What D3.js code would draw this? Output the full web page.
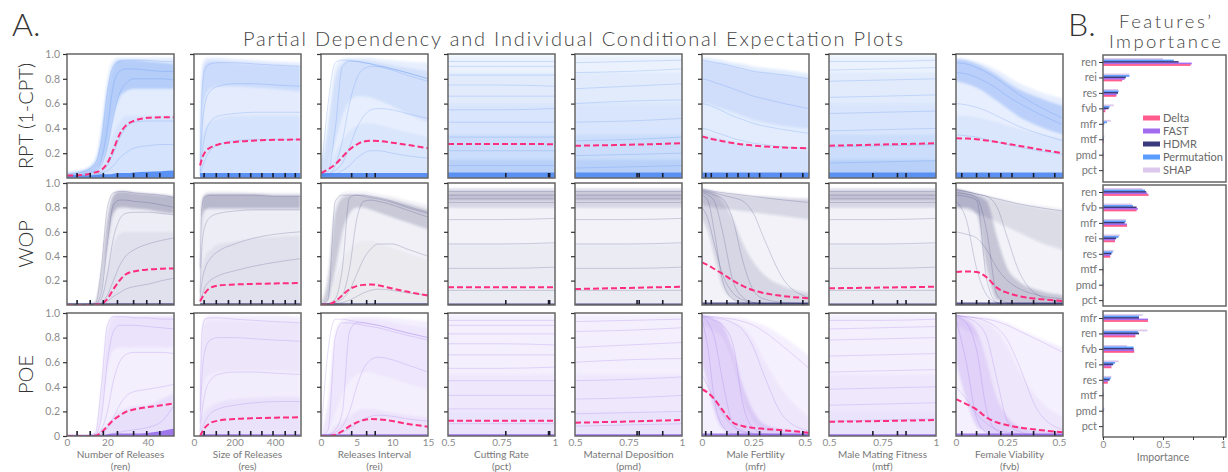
<!DOCTYPE html>
<html><head><meta charset="utf-8">
<script src="https://cdn.jsdelivr.net/npm/d3@7"></script>
<style>body{margin:0;background:#fff;} svg{display:block;font-family:Lato,'Open Sans',sans-serif;}</style>
</head><body><svg id="c" width="1228" height="472"></svg>
<script>
// ---------- categories / axes ----------
const features = ["ren","res","rei","pct","pmd","mfr","mtf","fvb"];
const featureNames = ["Number of Releases","Size of Releases","Releases Interval","Cutting Rate","Maternal Deposition","Male Fertility","Male Mating Fitness","Female Viability"];
const xDomains = [[0,53],[0,528],[0,15],[0.5,1],[0.5,1],[0,0.52],[0.5,1],[0,0.52]];
const xTickVals = [[0,20,40],[0,200,400],[0,5,10,15],[0.5,0.75,1],[0.5,0.75,1],[0,0.25,0.5],[0.5,0.75,1],[0,0.25,0.5]];
const yTickVals = [0.2,0.4,0.6,0.8,1.0];
const rowNames = ["RPT (1-CPT)","WOP","POE"];
const rowColors = ["#3a7bf0","#2d2d6c","#8b5ce8"];

// ---------- x grids for the curves ----------
const gridRen = [0,8,14,17,20,23,26,29,33,40,47,53];
const gridRes = [30,40,55,80,120,200,300,400,525];
const gridRei = [0,1,2,3,4,5,6,7,8,10,12,15];
const gridPct = [0.5,0.75,1];
const gridPmd = [0.5,0.75,1];
const gridMfr = [0,0.03,0.06,0.1,0.15,0.2,0.25,0.3,0.4,0.52];
const gridMtf = [0.5,0.75,1];
const gridFvb = [0,0.05,0.1,0.15,0.2,0.25,0.3,0.4,0.52];

// ---------- rug (decile) positions ----------
const rugRen = [5,11.5,18,25,33,39.5,46];
const rugRes = [50,110,170,225,280,335,390,450,500];
const rugRei = [4.3,6.4,7.6];
const rugPct = [0.77,0.97,0.975];
const rugPmd = [0.79,0.80,0.91];
const rugMfr = [0.018,0.045,0.121,0.175,0.227,0.28,0.383,0.49];
const rugMtf = [0.705,0.82,0.86];
const rugFvb = [0.028,0.1,0.16,0.218,0.272,0.377,0.48];

// ---------- partial dependence (pink dashed) ----------
const pdRPT = [
 [0.02,0.025,0.045,0.065,0.12,0.23,0.35,0.42,0.46,0.485,0.49,0.49],
 [0.1,0.16,0.21,0.245,0.27,0.29,0.302,0.308,0.31],
 [0.04,0.07,0.11,0.17,0.23,0.27,0.295,0.3,0.298,0.285,0.268,0.24],
 [0.275,0.274,0.273],
 [0.26,0.268,0.28],
 [0.335,0.322,0.31,0.297,0.282,0.27,0.262,0.255,0.245,0.24],
 [0.26,0.27,0.28],
 [0.32,0.318,0.313,0.302,0.29,0.276,0.262,0.232,0.2]];
const pdWOP = [
 [0,0,0.002,0.01,0.05,0.13,0.2,0.25,0.275,0.29,0.297,0.3],
 [0.03,0.06,0.1,0.14,0.16,0.168,0.173,0.177,0.18],
 [0,0.005,0.03,0.08,0.13,0.155,0.165,0.168,0.162,0.135,0.11,0.077],
 [0.145,0.145,0.145],
 [0.131,0.14,0.15],
 [0.35,0.325,0.295,0.255,0.2,0.155,0.12,0.098,0.072,0.055],
 [0.137,0.143,0.15],
 [0.27,0.275,0.27,0.225,0.14,0.1,0.075,0.05,0.033]];
const pdPOE = [
 [0,0,0.002,0.03,0.08,0.13,0.165,0.195,0.215,0.235,0.25,0.265],
 [0,0.03,0.07,0.105,0.125,0.138,0.145,0.149,0.152],
 [0,0,0.01,0.04,0.08,0.11,0.13,0.138,0.136,0.122,0.1,0.076],
 [0.124,0.124,0.124],
 [0.108,0.118,0.13],
 [0.38,0.35,0.3,0.21,0.11,0.08,0.066,0.058,0.045,0.027],
 [0.116,0.122,0.13],
 [0.3,0.26,0.215,0.15,0.11,0.088,0.072,0.05,0.03]];

// ---------- ICE cloud density bands: [low, high, opacity] ----------
const flatBandsRPT = [[0,0.985,0.1],[0,0.85,0.05],[0,0.6,0.06],[0,0.35,0.08],[0,0.15,0.12],[0,0.045,0.75]];
const flatBandsWOP = [[0,0.96,0.05],[0.8,0.95,0.15],[0.86,0.92,0.12],[0,0.5,0.03],[0,0.012,0.85]];
const flatBandsPOE = [[0,0.985,0.1],[0,0.5,0.04],[0,0.2,0.05],[0,0.015,0.85]];
const bandsRPT = [
 [[0,[0.05,0.07,0.16,0.42,0.8,0.95,0.97,0.97,0.97,0.97,0.97,0.97],0.14],
  [[0.02,0.03,0.06,0.12,0.25,0.5,0.65,0.7,0.72,0.72,0.72,0.72],[0.04,0.06,0.12,0.32,0.7,0.9,0.95,0.95,0.95,0.94,0.93,0.92],0.28],
  [0,[0.03,0.04,0.06,0.1,0.2,0.35,0.45,0.5,0.5,0.5,0.5,0.5],0.08],
  [0,[0.02,0.02,0.025,0.03,0.03,0.035,0.04,0.04,0.045,0.05,0.055,0.06],0.8]],
 [[0,[0.35,0.9,0.96,0.97,0.97,0.96,0.95,0.94,0.93],0.15],
  [[0.05,0.4,0.65,0.72,0.74,0.74,0.73,0.72,0.7],[0.2,0.8,0.92,0.94,0.94,0.93,0.92,0.91,0.9],0.14],
  [0,[0.1,0.3,0.4,0.45,0.48,0.5,0.5,0.5,0.5],0.07],
  [0,0.04,0.8]],
 [[0,[0.06,0.5,0.9,0.96,0.97,0.97,0.97,0.97,0.96,0.95,0.94,0.93],0.13],
  [[0.02,0.1,0.3,0.5,0.62,0.66,0.66,0.65,0.63,0.58,0.52,0.45],[0.04,0.4,0.8,0.92,0.95,0.95,0.95,0.94,0.93,0.91,0.89,0.86],0.12],
  [0,[0.03,0.1,0.2,0.3,0.38,0.42,0.44,0.44,0.43,0.4,0.37,0.33],0.07],
  [0,0.04,0.8]],
 flatBandsRPT, flatBandsRPT,
 [[0,[0.97,0.97,0.96,0.95,0.93,0.92,0.9,0.89,0.87,0.84],0.14],
  [[0.6,0.6,0.58,0.56,0.53,0.5,0.47,0.45,0.42,0.4],[0.95,0.94,0.93,0.92,0.9,0.88,0.86,0.85,0.83,0.8],0.12],
  [0,[0.35,0.34,0.33,0.31,0.29,0.27,0.26,0.25,0.24,0.23],0.09],
  [0,0.045,0.8]],
 flatBandsRPT,
 [[0,[0.97,0.96,0.94,0.91,0.87,0.82,0.77,0.7,0.64],0.13],
  [[0.78,0.76,0.73,0.68,0.62,0.56,0.5,0.42,0.35],[0.96,0.95,0.92,0.88,0.83,0.77,0.72,0.65,0.58],0.26],
  [0,[0.5,0.5,0.49,0.47,0.45,0.42,0.4,0.36,0.32],0.07],
  [0,0.045,0.8]]];
const bandsWOP = [
 [[0,[0.005,0.005,0.03,0.3,0.75,0.92,0.94,0.94,0.93,0.92,0.91,0.9],0.07],
  [[0,0,0.01,0.15,0.5,0.75,0.8,0.8,0.79,0.78,0.76,0.75],[0.005,0.005,0.02,0.25,0.7,0.9,0.93,0.93,0.92,0.91,0.9,0.89],0.28],
  [0,[0,0,0.005,0.1,0.3,0.5,0.58,0.6,0.6,0.6,0.6,0.6],0.05],
  [0,0.015,0.8]],
 [[0,[0.4,0.88,0.92,0.93,0.93,0.93,0.92,0.92,0.92],0.07],
  [[0.2,0.7,0.78,0.79,0.79,0.79,0.79,0.79,0.79],[0.35,0.85,0.9,0.91,0.91,0.91,0.91,0.9,0.9],0.28],
  [0,[0.1,0.3,0.4,0.45,0.5,0.52,0.55,0.56,0.57],0.05],
  [0,0.015,0.8]],
 [[0,[0.01,0.3,0.85,0.92,0.93,0.93,0.93,0.92,0.91,0.89,0.86,0.82],0.06],
  [[0,0.05,0.3,0.6,0.75,0.8,0.8,0.78,0.76,0.72,0.68,0.62],[0.005,0.2,0.75,0.88,0.9,0.9,0.9,0.89,0.88,0.86,0.83,0.78],0.22],
  [0,[0,0.05,0.2,0.35,0.45,0.5,0.52,0.52,0.5,0.46,0.42,0.36],0.05],
  [0,0.015,0.8]],
 flatBandsWOP, flatBandsWOP,
 [[0,[0.96,0.95,0.94,0.93,0.92,0.91,0.9,0.89,0.88,0.87],0.05],
  [[0.7,0.6,0.4,0.15,0.05,0.02,0.01,0.01,0.01,0.01],[0.95,0.94,0.92,0.85,0.7,0.5,0.35,0.25,0.15,0.1],0.15],
  [[0.82,0.81,0.8,0.79,0.78,0.77,0.76,0.75,0.73,0.7],[0.95,0.94,0.93,0.92,0.91,0.9,0.89,0.89,0.88,0.87],0.15],
  [0,0.02,0.8]],
 flatBandsWOP,
 [[0,[0.96,0.94,0.92,0.9,0.88,0.86,0.84,0.82,0.79],0.05],
  [[0.8,0.8,0.75,0.3,0.04,0.02,0.01,0.01,0.01],[0.95,0.93,0.9,0.85,0.55,0.3,0.2,0.12,0.08],0.24],
  [[0.8,0.78,0.75,0.72,0.68,0.64,0.6,0.52,0.45],[0.95,0.93,0.91,0.89,0.87,0.85,0.83,0.8,0.77],0.12],
  [0,0.02,0.8]]];
const bandsPOE = [
 [[0,[0.005,0.005,0.03,0.4,0.9,0.98,0.98,0.98,0.98,0.98,0.98,0.98],0.1],
  [[0,0,0.01,0.2,0.55,0.7,0.72,0.72,0.72,0.72,0.72,0.72],[0,0,0.02,0.35,0.85,0.96,0.97,0.97,0.97,0.97,0.97,0.97],0.08],
  [0,[0,0,0.01,0.05,0.1,0.15,0.2,0.22,0.24,0.25,0.3,0.35],0.1],
  [0,[0.01,0.01,0.01,0.01,0.015,0.02,0.02,0.02,0.02,0.025,0.04,0.06],0.8]],
 [[0,[0.4,0.9,0.97,0.98,0.98,0.98,0.98,0.98,0.97],0.11],
  [[0.05,0.3,0.45,0.5,0.52,0.53,0.53,0.53,0.52],[0.3,0.8,0.92,0.94,0.94,0.94,0.93,0.93,0.92],0.05],
  [0,[0.05,0.15,0.2,0.24,0.27,0.3,0.31,0.32,0.32],0.07],
  [0,0.015,0.8]],
 [[0,[0.005,0.3,0.85,0.95,0.97,0.97,0.97,0.97,0.97,0.96,0.95,0.93],0.1],
  [[0,0.05,0.2,0.35,0.45,0.5,0.52,0.52,0.5,0.47,0.43,0.38],[0,0.25,0.75,0.9,0.94,0.95,0.95,0.95,0.94,0.92,0.9,0.87],0.06],
  [0,[0,0.03,0.08,0.12,0.16,0.2,0.22,0.22,0.21,0.19,0.17,0.15],0.07],
  [0,0.015,0.8]],
 flatBandsPOE, flatBandsPOE,
 [[0,[0.985,0.985,0.98,0.98,0.97,0.96,0.93,0.9,0.8,0.65],0.09],
  [[0.6,0.4,0.2,0.06,0.02,0.01,0.01,0.01,0.01,0.01],[0.98,0.97,0.95,0.9,0.7,0.4,0.2,0.1,0.05,0.03],0.2],
  [[0.9,0.88,0.85,0.8,0.6,0.3,0.12,0.06,0.03,0.02],[0.98,0.97,0.96,0.95,0.93,0.88,0.78,0.62,0.35,0.15],0.07],
  [0,0.02,0.8]],
 flatBandsPOE,
 [[0,[0.985,0.985,0.98,0.97,0.95,0.92,0.88,0.8,0.72],0.09],
  [[0.6,0.3,0.08,0.03,0.01,0.01,0.01,0.01,0.01],[0.98,0.95,0.85,0.6,0.3,0.15,0.08,0.04,0.03],0.2],
  [[0.9,0.86,0.8,0.6,0.3,0.12,0.06,0.03,0.02],[0.98,0.97,0.95,0.92,0.85,0.72,0.55,0.3,0.15],0.07],
  [0,0.02,0.8]]];

// ---------- representative ICE curves ----------
const flatLinesA = [[0.94,0.94,0.94],[0.9,0.9,0.9],[0.83,0.83,0.83],[0.75,0.75,0.74],[0.66,0.66,0.66],[0.55,0.55,0.56],[0.45,0.45,0.45],[0.33,0.33,0.33],[0.22,0.22,0.22],[0.1,0.1,0.1]];
const flatLinesB = [[0.93,0.94,0.95],[0.85,0.86,0.88],[0.72,0.74,0.76],[0.6,0.62,0.63],[0.45,0.46,0.48],[0.3,0.31,0.33],[0.18,0.19,0.2],[0.08,0.09,0.1]];
const flatLinesC = [[0.94,0.94,0.95],[0.87,0.88,0.89],[0.78,0.79,0.8],[0.65,0.66,0.67],[0.52,0.53,0.54],[0.38,0.39,0.4],[0.25,0.26,0.27],[0.12,0.13,0.14]];
const flatLinesW = [[0.93,0.93,0.93],[0.9,0.9,0.9],[0.87,0.87,0.87],[0.84,0.84,0.84],[0.7,0.7,0.71],[0.5,0.5,0.51],[0.3,0.3,0.31],[0.12,0.12,0.12]];
const linesRPT = [
 [[0.03,0.05,0.12,0.3,0.7,0.9,0.94,0.95,0.95,0.95,0.94,0.94],[0.02,0.03,0.06,0.14,0.4,0.75,0.86,0.88,0.88,0.87,0.86,0.86],
  [0.02,0.03,0.05,0.1,0.25,0.5,0.68,0.76,0.8,0.8,0.8,0.79],[0.02,0.02,0.03,0.05,0.1,0.2,0.32,0.4,0.45,0.46,0.46,0.46],
  [0.02,0.02,0.03,0.04,0.06,0.1,0.16,0.2,0.24,0.26,0.27,0.27]],
 [[0.1,0.7,0.88,0.92,0.93,0.93,0.92,0.91,0.9],[0.05,0.4,0.6,0.7,0.74,0.76,0.76,0.75,0.74],
  [0.03,0.2,0.35,0.45,0.5,0.52,0.53,0.53,0.53],[0.02,0.08,0.15,0.22,0.27,0.3,0.31,0.31,0.31]],
 [[0.02,0.6,0.93,0.95,0.95,0.94,0.93,0.92,0.91,0.88,0.85,0.8],[0.02,0.05,0.4,0.9,0.94,0.94,0.93,0.92,0.9,0.87,0.83,0.78],
  [0.02,0.03,0.1,0.3,0.6,0.8,0.88,0.9,0.9,0.88,0.85,0.8],[0.02,0.03,0.06,0.12,0.25,0.4,0.5,0.55,0.56,0.55,0.52,0.48],
  [0.02,0.02,0.03,0.06,0.1,0.16,0.2,0.22,0.22,0.2,0.18,0.16]],
 flatLinesA, flatLinesB,
 [[0.95,0.94,0.93,0.92,0.9,0.88,0.86,0.85,0.83,0.8],[0.8,0.79,0.77,0.75,0.72,0.69,0.66,0.64,0.6,0.56],
  [0.6,0.59,0.57,0.54,0.5,0.47,0.44,0.42,0.39,0.36],[0.4,0.39,0.37,0.35,0.32,0.3,0.28,0.27,0.25,0.24]],
 flatLinesC,
 [[0.93,0.92,0.89,0.85,0.8,0.74,0.68,0.58,0.48],[0.85,0.84,0.81,0.77,0.72,0.66,0.61,0.52,0.43],
  [0.6,0.59,0.57,0.54,0.5,0.46,0.42,0.36,0.3],[0.35,0.34,0.33,0.31,0.29,0.27,0.25,0.22,0.19]]];
const linesWOP = [
 [[0,0,0.01,0.3,0.8,0.92,0.93,0.93,0.92,0.91,0.9,0.88],[0,0,0.005,0.1,0.5,0.82,0.86,0.86,0.85,0.84,0.82,0.8],
  [0,0,0.005,0.05,0.25,0.55,0.7,0.75,0.76,0.76,0.75,0.74],[0,0,0.003,0.02,0.08,0.2,0.32,0.4,0.45,0.5,0.53,0.55],
  [0,0,0,0.01,0.03,0.07,0.1,0.13,0.15,0.17,0.2,0.22]],
 [[0.3,0.82,0.89,0.9,0.9,0.9,0.9,0.89,0.89],[0.1,0.5,0.65,0.72,0.75,0.77,0.78,0.78,0.78],
  [0.05,0.2,0.3,0.38,0.44,0.5,0.55,0.58,0.6],[0.02,0.08,0.15,0.2,0.24,0.28,0.32,0.35,0.38]],
 [[0,0.05,0.85,0.9,0.9,0.9,0.89,0.88,0.87,0.84,0.8,0.75],[0,0.01,0.05,0.3,0.88,0.9,0.9,0.89,0.88,0.85,0.81,0.76],
  [0,0.01,0.03,0.08,0.3,0.7,0.85,0.86,0.85,0.82,0.78,0.72],[0,0.005,0.02,0.05,0.12,0.25,0.38,0.46,0.5,0.5,0.46,0.4],
  [0,0,0.01,0.02,0.04,0.07,0.1,0.12,0.13,0.12,0.1,0.08]],
 flatLinesW, flatLinesW,
 [[0.9,0.85,0.6,0.2,0.05,0.02,0.01,0.01,0.01,0.01],[0.92,0.9,0.85,0.6,0.2,0.06,0.02,0.01,0.01,0.01],
  [0.93,0.92,0.9,0.87,0.7,0.35,0.12,0.05,0.02,0.01],[0.94,0.93,0.92,0.9,0.88,0.85,0.75,0.55,0.2,0.06],
  [0.95,0.94,0.93,0.92,0.91,0.9,0.89,0.88,0.86,0.84],[0.8,0.7,0.5,0.25,0.1,0.04,0.02,0.01,0.01,0.01]],
 flatLinesW,
 [[0.9,0.89,0.86,0.2,0.02,0.01,0.01,0.01,0.01],[0.92,0.91,0.88,0.6,0.08,0.02,0.01,0.01,0.01],
  [0.85,0.7,0.3,0.08,0.02,0.01,0.01,0.01,0.01],[0.94,0.93,0.91,0.89,0.8,0.55,0.3,0.08,0.02],
  [0.95,0.93,0.91,0.89,0.87,0.85,0.83,0.8,0.77],[0.6,0.58,0.55,0.45,0.3,0.2,0.14,0.08,0.05]]];
const linesPOE = [
 [[0,0,0.02,0.4,0.9,0.97,0.97,0.97,0.96,0.96,0.95,0.95],[0,0,0.01,0.15,0.6,0.85,0.9,0.9,0.9,0.89,0.88,0.87],
  [0,0,0.005,0.05,0.2,0.45,0.6,0.66,0.68,0.68,0.68,0.67],[0,0,0,0.02,0.06,0.15,0.25,0.32,0.36,0.38,0.4,0.42],
  [0,0,0,0,0.01,0.02,0.03,0.04,0.05,0.07,0.12,0.25]],
 [[0.2,0.85,0.95,0.96,0.96,0.95,0.94,0.93,0.92],[0.1,0.5,0.7,0.78,0.8,0.8,0.79,0.78,0.77],
  [0.04,0.2,0.35,0.45,0.5,0.52,0.52,0.51,0.5],[0.01,0.06,0.12,0.18,0.22,0.25,0.27,0.28,0.28]],
 [[0,0.7,0.95,0.95,0.94,0.93,0.92,0.91,0.9,0.87,0.84,0.8],[0,0.05,0.8,0.92,0.92,0.91,0.9,0.89,0.88,0.85,0.82,0.78],
  [0,0.01,0.05,0.2,0.85,0.92,0.92,0.91,0.9,0.87,0.84,0.8],[0,0.01,0.03,0.08,0.2,0.4,0.55,0.62,0.64,0.62,0.58,0.52],
  [0,0,0.01,0.03,0.06,0.1,0.14,0.16,0.17,0.16,0.14,0.12]],
 flatLinesA, flatLinesB,
 [[0.95,0.7,0.3,0.08,0.02,0.01,0.01,0.01,0.01,0.01],[0.97,0.92,0.8,0.45,0.1,0.03,0.02,0.01,0.01,0.01],
  [0.97,0.96,0.94,0.9,0.75,0.25,0.06,0.02,0.01,0.01],[0.98,0.97,0.96,0.95,0.92,0.86,0.72,0.5,0.15,0.04],
  [0.98,0.97,0.97,0.96,0.95,0.93,0.9,0.85,0.72,0.55],[0.5,0.4,0.3,0.18,0.08,0.04,0.02,0.01,0.01,0.01]],
 flatLinesC,
 [[0.95,0.6,0.15,0.03,0.01,0.01,0.01,0.01,0.01],[0.97,0.92,0.7,0.2,0.04,0.01,0.01,0.01,0.01],
  [0.98,0.96,0.92,0.8,0.45,0.12,0.04,0.01,0.01],[0.98,0.97,0.96,0.93,0.88,0.78,0.6,0.2,0.05],
  [0.98,0.97,0.96,0.95,0.93,0.9,0.86,0.78,0.68],[0.4,0.3,0.18,0.1,0.05,0.03,0.02,0.01,0.01]]];

// ---------- feature importance ----------
const methods = ["Delta","FAST","HDMR","Permutation","SHAP"];
const methodColors = ["#ff5c8d","#a36cf0","#3a3a7c","#5b9cff","#dcc8ec"];
const impFeatRPT = ["ren","rei","res","fvb","mfr","mtf","pmd","pct"];
const impRPT_Delta = [0.73,0.16,0.11,0.02,0.005,0.008,0.004,0.002];
const impRPT_FAST  = [0.74,0.18,0.115,0.02,0.005,0.008,0.004,0.002];
const impRPT_HDMR  = [0.63,0.19,0.125,0.047,0.01,0.006,0.003,0.001];
const impRPT_Perm  = [0.59,0.22,0.13,0.055,0.033,0.008,0.005,0.002];
const impRPT_SHAP  = [0.5,0.22,0.125,0.09,0.065,0.012,0.008,0.003];
const impFeatWOP = ["ren","fvb","mfr","rei","res","mtf","pmd","pct"];
const impWOP_Delta = [0.38,0.28,0.2,0.1,0.06,0.004,0.004,0.001];
const impWOP_FAST  = [0.37,0.29,0.2,0.1,0.06,0.004,0.004,0.001];
const impWOP_HDMR  = [0.36,0.28,0.18,0.11,0.07,0.003,0.003,0.001];
const impWOP_Perm  = [0.35,0.25,0.19,0.13,0.08,0.005,0.008,0.002];
const impWOP_SHAP  = [0.33,0.24,0.19,0.14,0.09,0.006,0.006,0.002];
const impFeatPOE = ["mfr","ren","fvb","rei","res","mtf","pmd","pct"];
const impPOE_Delta = [0.375,0.27,0.26,0.07,0.04,0.003,0.003,0.001];
const impPOE_FAST  = [0.375,0.27,0.26,0.07,0.04,0.003,0.003,0.001];
const impPOE_HDMR  = [0.3,0.3,0.255,0.085,0.055,0.004,0.004,0.001];
const impPOE_Perm  = [0.3,0.29,0.255,0.1,0.065,0.006,0.01,0.002];
const impPOE_SHAP  = [0.33,0.37,0.2,0.13,0.07,0.005,0.006,0.002];
const impTicks = [0,0.25,0.5,0.75,1];

// ================= drawing =================
const svg = d3.select("#c");
const grids = [gridRen,gridRes,gridRei,gridPct,gridPmd,gridMfr,gridMtf,gridFvb];
const rugs = [rugRen,rugRes,rugRei,rugPct,rugPmd,rugMfr,rugMtf,rugFvb];
const pdRows = [pdRPT,pdWOP,pdPOE];
const bandRows = [bandsRPT,bandsWOP,bandsPOE];
const lineRows = [linesRPT,linesWOP,linesPOE];
const colLeft = features.map((f,i)=>67+i*127);
const panelW = 107;
const rowTop = [54,183,313], rowH = [124,122,123];
const tickGray = "#8c8c8c";
const val = (a,i)=>Array.isArray(a)?a[i]:a;
const defs = svg.append("defs");
defs.append("filter").attr("id","soft").attr("x","-5%").attr("y","-5%").attr("width","110%").attr("height","110%")
  .append("feGaussianBlur").attr("stdDeviation",1.3);

svg.append("text").attr("x",12).attr("y",36).attr("font-size",32).attr("font-weight",300).attr("fill","#333").text("A.");
svg.append("text").attr("x",573).attr("y",46).attr("text-anchor","middle").attr("font-size",20).attr("font-weight",300)
  .attr("fill","#444").attr("textLength",660).text("Partial Dependency and Individual Conditional Expectation Plots");

rowNames.forEach((rn,r)=>{
  const top=rowTop[r], h=rowH[r], bottom=top+h;
  svg.append("text").attr("transform",`translate(33,${top+h/2}) rotate(-90)`).attr("text-anchor","middle")
    .attr("font-size",20).attr("font-weight",300).attr("fill","#333").text(rn);
  features.forEach((f,c)=>{
    const x = d3.scaleLinear().domain(xDomains[c]).range([colLeft[c],colLeft[c]+panelW]);
    const y = d3.scaleLinear().domain([0,1]).range([bottom,top]);
    const grid = grids[c];
    const id = `cl${r}_${c}`;
    defs.append("clipPath").attr("id",id).append("rect").attr("x",colLeft[c]).attr("y",top).attr("width",panelW).attr("height",h);
    const g = svg.append("g").attr("clip-path",`url(#${id})`);
    const gb = g.append("g").attr("filter","url(#soft)");
    const nb = bandRows[r][c].length;
    bandRows[r][c].forEach(([lo,hi,a],k)=>{
      const area = d3.area().x((d,i)=>x(grid[i])).y0((d,i)=>y(val(lo,i))).y1((d,i)=>y(val(hi,i))).curve(d3.curveMonotoneX);
      (k===nb-1 ? g : gb).append("path").datum(grid).attr("d",area).attr("fill",rowColors[r]).attr("fill-opacity",a);
    });
    const ln = d3.line().x((d,i)=>x(grid[i])).y(d=>y(d)).curve(d3.curveMonotoneX);
    lineRows[r][c].forEach(ys=>{
      g.append("path").datum(ys).attr("d",ln).attr("fill","none").attr("stroke",rowColors[r])
        .attr("stroke-opacity",0.25).attr("stroke-width",0.8);
    });
    g.append("path").datum(pdRows[r][c]).attr("d",ln).attr("fill","none").attr("stroke","#ff2d7d")
      .attr("stroke-width",2).attr("stroke-dasharray","6,3");
    g.selectAll("line.rug").data(rugs[c]).join("line").attr("class","rug")
      .attr("x1",d=>x(d)).attr("x2",d=>x(d)).attr("y1",bottom).attr("y2",bottom-5)
      .attr("stroke","#1a1a2e").attr("stroke-width",1.6);
    svg.append("rect").attr("x",colLeft[c]).attr("y",top).attr("width",panelW).attr("height",h)
      .attr("fill","none").attr("stroke","#666").attr("stroke-width",1.5);
    const ya = d3.axisLeft(y).tickValues(r===2 && c===0 ? [0].concat(yTickVals) : yTickVals).tickSize(4).tickPadding(3)
      .tickFormat(c===0 ? (d=> d===0 ? "0" : d3.format(".1f")(d)) : (()=>""));
    const ag = svg.append("g").attr("transform",`translate(${colLeft[c]},0)`).call(ya);
    ag.select(".domain").remove();
    ag.selectAll(".tick line").attr("stroke","#333").attr("stroke-width",1.2);
    ag.selectAll(".tick text").attr("fill",tickGray).attr("font-size",10.5).attr("font-family","Lato");
    if(r===2){
      const xa = d3.axisBottom(x).tickValues(xTickVals[c]).tickSize(0).tickPadding(3).tickFormat(d3.format("~g"));
      const xg = svg.append("g").attr("transform",`translate(0,${bottom})`).call(xa);
      xg.select(".domain").remove();
      xg.selectAll(".tick text").attr("fill",tickGray).attr("font-size",10).attr("font-family","Lato");
      const cx = colLeft[c]+panelW/2;
      svg.append("text").attr("x",cx).attr("y",458.2).attr("text-anchor","middle").attr("font-size",10).attr("fill","#777").text(featureNames[c]);
      svg.append("text").attr("x",cx).attr("y",469.6).attr("text-anchor","middle").attr("font-size",10).attr("fill","#777").text(`(${f})`);
    }
  });
});

// ---------- Panel B ----------
svg.append("text").attr("x",1068).attr("y",36).attr("font-size",32).attr("font-weight",300).attr("fill","#333").text("B.");
svg.append("text").attr("x",1165).attr("y",28).attr("text-anchor","middle").attr("font-size",18.5).attr("font-weight",300).attr("fill","#444")
  .attr("textLength",92).text("Features\u2019");
svg.append("text").attr("x",1165).attr("y",48).attr("text-anchor","middle").attr("font-size",18.5).attr("font-weight",300).attr("fill","#444")
  .attr("textLength",112).text("Importance");

const impSets = [
  [impFeatRPT,[impRPT_Delta,impRPT_FAST,impRPT_HDMR,impRPT_Perm,impRPT_SHAP]],
  [impFeatWOP,[impWOP_Delta,impWOP_FAST,impWOP_HDMR,impWOP_Perm,impWOP_SHAP]],
  [impFeatPOE,[impPOE_Delta,impPOE_FAST,impPOE_HDMR,impPOE_Perm,impPOE_SHAP]]];
const bTop=[55,185,311], bBot=[182,306,437];
const bx = d3.scaleLinear().domain([0,1.025]).range([1103,1226]);
const offs = [3,1.5,0,-1.5,-3]; // Delta bottom ... SHAP top
impSets.forEach(([feats,vals],r)=>{
  const yb = d3.scalePoint().domain(feats).range([bTop[r]+7,bTop[r]+7+7*15.45]);
  const g = svg.append("g");
  [4,3,2,1,0].forEach(m=>{
    g.selectAll(null).data(feats).join("rect")
      .attr("x",bx(0)).attr("y",(d)=>yb(d)+offs[m]-0.9).attr("height",1.8)
      .attr("width",(d,i)=>bx(vals[m][i])-bx(0)).attr("fill",methodColors[m]);
  });
  svg.append("rect").attr("x",1103).attr("y",bTop[r]).attr("width",123).attr("height",bBot[r]-bTop[r])
    .attr("fill","none").attr("stroke","#666").attr("stroke-width",1.5);
  const ya = d3.axisLeft(yb).tickSize(4).tickPadding(2);
  const ag = svg.append("g").attr("transform","translate(1103,0)").call(ya);
  ag.select(".domain").remove();
  ag.selectAll(".tick line").attr("stroke","#333");
  ag.selectAll(".tick text").attr("fill","#777").attr("font-size",11).attr("font-family","Lato");
  if(r===2){
    const xa = d3.axisBottom(bx).tickValues(impTicks).tickSize(3).tickPadding(1).tickFormat(d=> (d===0||d===0.5||d===1)? d3.format("~g")(d):"");
    const xg = svg.append("g").attr("transform",`translate(0,${bBot[r]})`).call(xa);
    xg.select(".domain").remove();
    xg.selectAll(".tick line").attr("stroke","#333");
    xg.selectAll(".tick text").attr("fill",tickGray).attr("font-size",10).attr("font-family","Lato");
    svg.append("text").attr("x",1163).attr("y",461).attr("text-anchor","middle").attr("font-size",10.5).attr("fill","#777").text("Importance");
  }
});
// legend
const lg = svg.append("g");
methods.forEach((m,i)=>{
  lg.append("rect").attr("x",1143).attr("y",115.5+i*13).attr("width",17).attr("height",5).attr("fill",methodColors[i]);
  lg.append("text").attr("x",1163).attr("y",122+i*13).attr("font-size",11).attr("fill","#666").text(m);
});
</script></body></html>
